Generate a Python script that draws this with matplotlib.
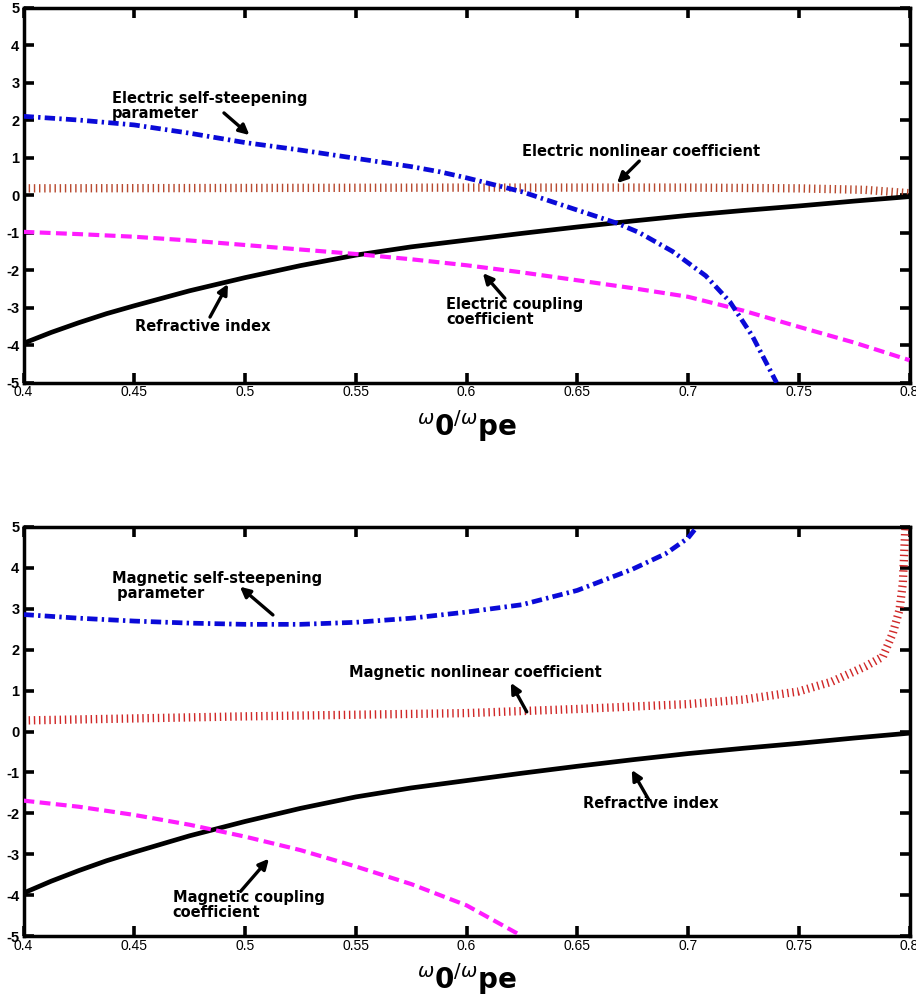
import matplotlib
matplotlib.use("Agg")
import matplotlib.pyplot as plt
from matplotlib.ticker import FixedLocator

# ---------------- data ----------------
# Refractive index (same curve in both panels)
x_ref = [0.4, 0.4125, 0.425, 0.4375, 0.45, 0.475, 0.5, 0.525, 0.55, 0.575, 0.6, 0.625, 0.65,
         0.675, 0.7, 0.725, 0.75, 0.775, 0.8]
y_ref = [-3.95, -3.66, -3.4, -3.16, -2.95, -2.55, -2.2, -1.88, -1.6, -1.38, -1.2, -1.02, -0.85,
         -0.69, -0.54, -0.41, -0.29, -0.16, -0.04]

# Top panel (electric)
x_e_steep = [0.4, 0.425, 0.45, 0.475, 0.5, 0.525, 0.55, 0.575, 0.588, 0.6, 0.625,
             0.648, 0.668, 0.678, 0.693, 0.708, 0.719, 0.729, 0.74]
y_e_steep = [2.1, 2.0, 1.87, 1.65, 1.4, 1.2, 0.98, 0.76, 0.62, 0.46, 0.09,
             -0.36, -0.75, -1.0, -1.5, -2.15, -2.85, -3.75, -5.0]

x_e_nonlin = [0.4, 0.5, 0.6, 0.7, 0.75, 0.78, 0.8]
y_e_nonlin = [0.18, 0.19, 0.2, 0.2, 0.18, 0.14, 0.05]

x_e_coup = [0.4, 0.425, 0.45, 0.475, 0.5, 0.525, 0.55, 0.575, 0.6, 0.625, 0.65,
            0.675, 0.7, 0.725, 0.75, 0.775, 0.8]
y_e_coup = [-0.98, -1.04, -1.11, -1.21, -1.33, -1.45, -1.57, -1.71, -1.87, -2.06, -2.27,
            -2.48, -2.71, -3.08, -3.51, -3.93, -4.4]

# Bottom panel (magnetic)
x_m_steep = [0.4, 0.425, 0.45, 0.475, 0.5, 0.525, 0.55, 0.575, 0.6, 0.625, 0.65,
             0.675, 0.69, 0.7, 0.704]
y_m_steep = [2.86, 2.77, 2.7, 2.65, 2.62, 2.62, 2.67, 2.77, 2.92, 3.1, 3.45,
             3.97, 4.35, 4.73, 5.0]

x_m_nonlin = [0.4, 0.45, 0.5, 0.55, 0.6, 0.65, 0.7, 0.725, 0.75, 0.765, 0.78,
              0.788, 0.7925, 0.7955, 0.797, 0.798, 0.7982]
y_m_nonlin = [0.27, 0.32, 0.37, 0.41, 0.45, 0.55, 0.67, 0.78, 0.98, 1.22, 1.59,
              1.83, 2.41, 2.98, 3.63, 4.85, 5.0]

x_m_coup = [0.4, 0.425, 0.45, 0.475, 0.5, 0.525, 0.55, 0.575, 0.6, 0.625]
y_m_coup = [-1.69, -1.84, -2.04, -2.28, -2.57, -2.9, -3.3, -3.73, -4.25, -5.0]

x_ticks = [0.4, 0.45, 0.5, 0.55, 0.6, 0.65, 0.7, 0.75, 0.8]
x_ticklabels = ["0.4", "0.45", "0.5", "0.55", "0.6", "0.65", "0.7", "0.75", "0.8"]
y_ticks = [-5, -4, -3, -2, -1, 0, 1, 2, 3, 4, 5]
y_ticklabels = ["-5", "-4", "-3", "-2", "-1", "0", "1", "2", "3", "4", "5"]

# ---------------- figure ----------------
W, H = 916, 1002
fig = plt.figure(figsize=(W / 100, H / 100), dpi=100)

sans = ["Liberation Sans", "DejaVu Sans"]
label_font = ["DejaVu Sans"]

ax1 = fig.add_axes([23.5 / W, 1 - 382.7 / H, 886 / W, 375.2 / H])
ax2 = fig.add_axes([23.5 / W, 1 - 936 / H, 886 / W, 409 / H])

BLUE = "#0a0ad8"
MAG = "#ff1cff"


def style_axes(ax):
    ax.set_xlim(0.4, 0.8)
    ax.set_ylim(-5, 5)
    ax.xaxis.set_major_locator(FixedLocator(x_ticks))
    ax.set_xticklabels(x_ticklabels, fontfamily=sans, fontsize=10)
    ax.yaxis.set_major_locator(FixedLocator(y_ticks))
    ax.set_yticklabels(y_ticklabels, fontfamily=sans, fontsize=10.5, fontweight="bold")
    ax.tick_params(which="both", direction="in", top=True, right=True,
                   length=7.5, width=2.6, color="black")
    ax.tick_params(axis="x", pad=2)
    ax.tick_params(axis="y", pad=3)
    for s in ax.spines.values():
        s.set_linewidth(2.5)
    ax.set_xlabel(r"${}^{\omega}\mathbf{0}{}^{/\omega}\mathbf{pe}$", fontsize=20,
                  labelpad=6)


def draw_curves(ax, xs, ys, xn, yn, xc, yc, red):
    ax.plot(x_ref, y_ref, color="black", lw=3.4, solid_capstyle="butt",
            solid_joinstyle="round", zorder=3)
    ax.plot(xc, yc, color=MAG, lw=3.0, dashes=(2.6, 1.3), zorder=3)
    ax.plot(xs, ys, color=BLUE, lw=3.4, dashes=(2.2, 0.9, 0.5, 0.9), zorder=4)
    ax.plot(xn, yn, color=red, lw=6.0, dashes=(0.17, 0.45), zorder=2)


def arrow(ax, head, tail):
    ax.annotate("", xy=head, xytext=tail,
                arrowprops=dict(arrowstyle="-|>", lw=2.4, color="black",
                                mutation_scale=15, shrinkA=0, shrinkB=0))


tk = dict(fontfamily=label_font, fontweight="bold", fontsize=10.5, ha="left", va="center",
          linespacing=1.0)

# ---- top panel ----
style_axes(ax1)
draw_curves(ax1, x_e_steep, y_e_steep, x_e_nonlin, y_e_nonlin, x_e_coup, y_e_coup, "#b84a30")
ax1.text(0.44, 2.37, "Electric self-steepening\nparameter", **tk)
arrow(ax1, (0.502, 1.6), (0.4905, 2.19))
ax1.text(0.625, 1.17, "Electric nonlinear coefficient", **tk)
arrow(ax1, (0.668, 0.32), (0.678, 0.907))
ax1.text(0.5907, -3.12, "Electric coupling\ncoefficient", **tk)
arrow(ax1, (0.6074, -2.08), (0.6173, -2.75))
ax1.text(0.4503, -3.51, "Refractive index", **tk)
arrow(ax1, (0.4923, -2.37), (0.4842, -3.25))

# ---- bottom panel ----
style_axes(ax2)
draw_curves(ax2, x_m_steep, y_m_steep, x_m_nonlin, y_m_nonlin, x_m_coup, y_m_coup, "#d02828")
ax2.text(0.44, 3.55, "Magnetic self-steepening\n parameter", **tk)
arrow(ax2, (0.4977, 3.54), (0.5126, 2.85))
ax2.text(0.5469, 1.44, "Magnetic nonlinear coefficient", **tk)
arrow(ax2, (0.62, 1.19), (0.6272, 0.48))
ax2.text(0.6525, -1.77, "Refractive index", **tk)
arrow(ax2, (0.6746, -0.94), (0.6823, -1.67))
ax2.text(0.4673, -4.24, "Magnetic coupling\ncoefficient", **tk)
arrow(ax2, (0.5108, -3.11), (0.498, -3.91))

fig.savefig("out.png", dpi=100)
